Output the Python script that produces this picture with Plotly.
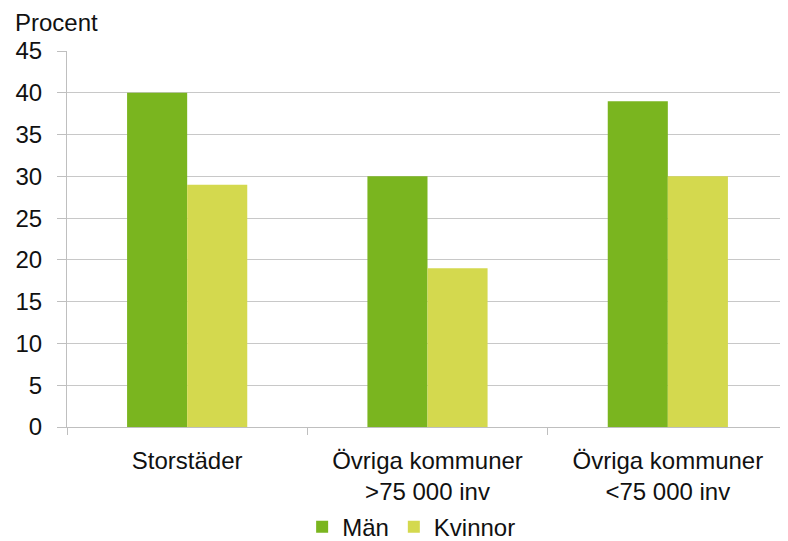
import plotly.graph_objects as go

categories = ["Storstäder", "Övriga kommuner<br>>75 000 inv", "Övriga kommuner<br><75 000 inv"]
man = [40, 30, 39]
kvinnor = [29, 19, 30]
y_ticks = [0, 5, 10, 15, 20, 25, 30, 35, 40, 45]

fig = go.Figure()
fig.add_trace(go.Bar(x=categories, y=man, name="Män",
                     marker=dict(color="#7AB51F", line=dict(width=0))))
fig.add_trace(go.Bar(x=categories, y=kvinnor, name="Kvinnor",
                     marker=dict(color="#D4D94E", line=dict(width=0))))

# page body has an 8px margin, so the figure is a bit smaller than the window
fig.update_layout(
    width=780, height=533,
    barmode="group", bargap=0.5, bargroupgap=0,
    margin=dict(l=59, r=0, t=43, b=114),
    plot_bgcolor="white", paper_bgcolor="white",
    font=dict(family="Liberation Sans, Arial", size=24, color="#111111"),
    legend=dict(orientation="h", x=0.478, xanchor="center",
                yref="container", y=0.026, yanchor="middle",
                font=dict(size=24), itemwidth=30, traceorder="normal"),
    annotations=[dict(text="Procent", xref="paper", yref="paper", x=-0.075, y=1.035,
                      xanchor="left", yanchor="bottom", showarrow=False,
                      font=dict(size=24))],
)
fig.update_xaxes(showline=True, linecolor="#BFBFBF", linewidth=1, automargin=False,
                 ticks="outside", tickson="boundaries", ticklen=7, tickcolor="#BFBFBF",
                 ticklabelstandoff=12)
fig.update_yaxes(range=[0, 45], tickvals=y_ticks, showgrid=True, gridcolor="#C8C8C8",
                 gridwidth=1, showline=True, linecolor="#BFBFBF", linewidth=1, automargin=False,
                 ticks="outside", ticklen=9, tickcolor="#BFBFBF", zeroline=False,
                 ticklabelstandoff=10)

fig.write_html("out.html")
